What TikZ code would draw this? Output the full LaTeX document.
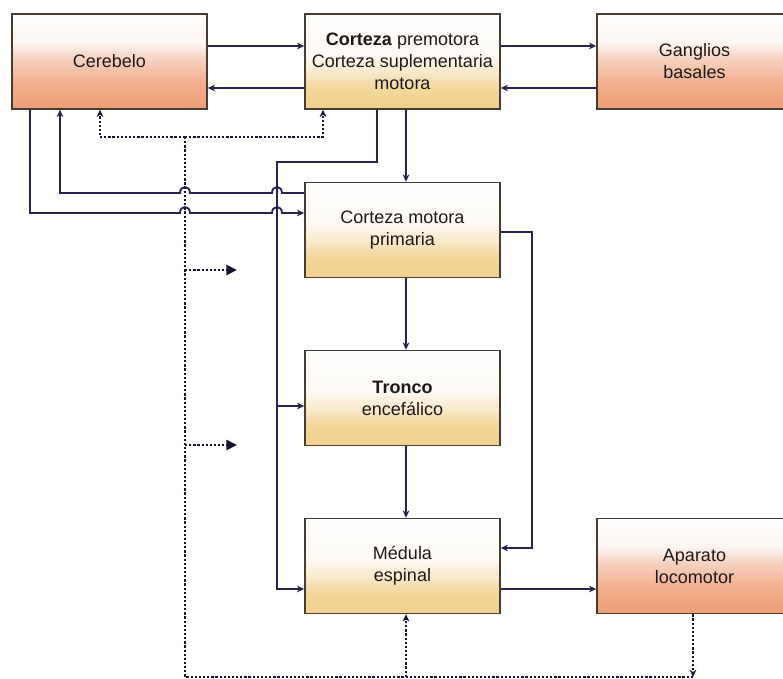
\documentclass[tikz,border=0pt]{standalone}
\usepackage{fontspec}
\setmainfont{Liberation Sans}
\usetikzlibrary{arrows.meta}
\definecolor{salB}{RGB}{238,158,118}
\definecolor{creB}{RGB}{243,207,140}
\definecolor{linec}{RGB}{40,34,80}
\definecolor{boxline}{RGB}{70,60,50}
\definecolor{txt}{RGB}{30,25,25}
\pgfdeclareverticalshading{salsh}{100bp}{color(0bp)=(salB); color(25bp)=(salB); color(38bp)=(salB!85!white); color(52bp)=(salB!45!white); color(60bp)=(salB!10!white); color(75bp)=(white); color(100bp)=(white)}
\pgfdeclareverticalshading{cresh}{100bp}{color(0bp)=(creB); color(25bp)=(creB); color(36bp)=(creB!85!white); color(46bp)=(creB!40!white); color(54bp)=(creB!8!white); color(75bp)=(white); color(100bp)=(white)}
\tikzset{
  basebox/.style={draw=boxline, line width=1.1pt, minimum width=146.25pt, minimum height=71.25pt,
    inner sep=0pt, align=center, text=txt, font=\fontsize{13.5}{16.5}\selectfont},
  salbox/.style={basebox, shading=salsh},
  crebox/.style={basebox, shading=cresh},
  conn/.style={draw=linec, line width=1.4pt},
  arr/.style={conn, -{Stealth[length=5.5pt,width=5pt]}},
  dotl/.style={draw=linec!60!black, line width=2.2pt, dash pattern=on 1.7pt off 1.4pt},
  dotarr/.style={dotl, -{Stealth[length=5.5pt,width=5pt]}},
  dotbig/.style={dotl, -{Triangle[length=8pt,width=7.5pt]}},
}
\begin{document}
\begin{tikzpicture}[x=0.75pt,y=-0.75pt]
\useasboundingbox (0,0) rectangle (783,679);
% boxes
\node[salbox] (cer) at (109.5,61.5) {Cerebelo};
\node[crebox] (cpm) at (402.5,61.5) {\textbf{Corteza} premotora\\Corteza suplementaria\\motora};
\node[salbox] (gb) at (694.5,61.5) {Ganglios\\basales};
\node[crebox] (cmp) at (402.5,230) {Corteza motora\\primaria};
\node[crebox] (tr) at (402.5,398) {\textbf{Tronco}\\encefálico};
\node[crebox] (me) at (402.5,566) {Médula\\espinal};
\node[salbox] (al) at (694.5,566) {Aparato\\locomotor};
% junction coordinates
\coordinate (dtop) at (185,137);
\coordinate (dbot) at (185,677);
\coordinate (dcor) at (693,677);
\coordinate (d1) at (237,270);
\coordinate (d2) at (237,445);
% top arrows
\draw[arr] (cer.east |- 0,46) -- (cpm.west |- 0,46);
\draw[arr] (cpm.west |- 0,88) -- (cer.east |- 0,88);
\draw[arr] (cpm.east |- 0,46) -- (gb.west |- 0,46);
\draw[arr] (gb.west |- 0,88) -- (cpm.east |- 0,88);
% central column
\draw[arr] (406,0 |- cpm.south) -- (406,0 |- cmp.north);
\draw[arr] (406,0 |- cmp.south) -- (406,0 |- tr.north);
\draw[arr] (406,0 |- tr.south) -- (406,0 |- me.north);
\draw[arr] (cmp.east |- 0,232) -- (532,232) -- (532,548) -- (me.east |- 0,548);
\draw[arr] (me.east |- 0,589) -- (al.west |- 0,589);
% premotor descending path
\draw[arr] (377,0 |- cpm.south) -- (377,162) -- (277,162) -- (277,589) -- (me.west |- 0,589);
\draw[arr] (277,406) -- (tr.west |- 0,406);
% cerebellum loops with hops
\draw[arr] (30,0 |- cer.south) -- (30,213) -- (180,213)
  .. controls (180,205) and (190,205) .. (190,213) -- (272,213)
  .. controls (272,205) and (282,205) .. (282,213) -- (cmp.west |- 0,213);
\draw[arr] (cmp.west |- 0,193) -- (282,193)
  .. controls (282,185) and (272,185) .. (272,193) -- (190,193)
  .. controls (190,185) and (180,185) .. (180,193) -- (60,193) -- (60,0 |- cer.south);
% dotted feedback
\draw[dotarr] (693,0 |- al.south) -- (dcor);
\draw[dotl] (dcor) -- (dbot) -- (dtop);
\draw[dotarr] (dtop) -- (100,137) -- (100,0 |- cer.south);
\draw[dotarr] (dtop) -- (323,137) -- (323,0 |- cpm.south);
\draw[dotarr] (406,677) -- (406,0 |- me.south);
\draw[dotbig] (185,270) -- (d1);
\draw[dotbig] (185,445) -- (d2);
\end{tikzpicture}
\end{document}
